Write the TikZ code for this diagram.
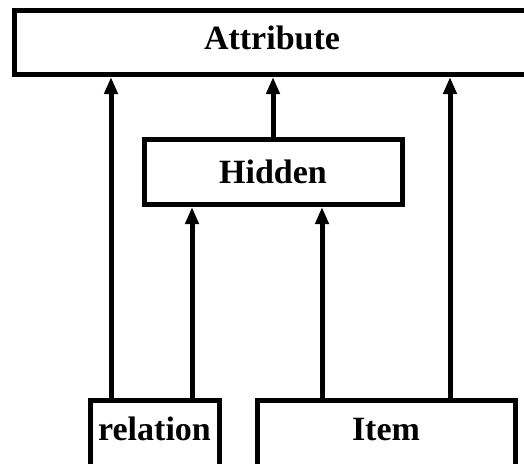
\documentclass[tikz,border=0pt]{standalone}
\usepackage{fontspec}
\setmainfont{Liberation Serif}
\usetikzlibrary{arrows.meta}

\tikzset{
  classbox/.style={draw, line width=5pt, inner sep=0pt,
    font=\fontsize{34}{40}\selectfont\bfseries},
  arr/.style={line width=5pt, -{Triangle[width=13pt,length=17pt]}}
}

\begin{document}
\begin{tikzpicture}[x=1pt, y=-1pt]
  \useasboundingbox (0,0) rectangle (524,463);
  \fill[white] (0,0) rectangle (524,463);
  \clip (0,0) rectangle (524,463);

  % class boxes
  \node[classbox, minimum width=516pt, minimum height=64.5pt,
        text height=22pt, text depth=8pt] (attr) at (272,42.25) {Attribute};
  \node[classbox, minimum width=258pt, minimum height=65pt,
        text height=22pt, text depth=0pt] (hid) at (273,172) {Hidden};
  \node[classbox, minimum width=129pt, minimum height=80pt,
        text height=11pt, text depth=11pt] (rel) at (154.5,440) {relation};
  \node[classbox, minimum width=258pt, minimum height=80pt,
        text height=11pt, text depth=11pt] (item) at (386,440) {Item};

  % generalisation arrows
  \draw[arr] ([xshift=-43.5pt]rel.north) -- ([xshift=-43.5pt]rel.north |- attr.south);
  \draw[arr] ([xshift=37.5pt]rel.north) -- ([xshift=37.5pt]rel.north |- hid.south);
  \draw[arr] ([xshift=-64pt]item.north) -- ([xshift=-64pt]item.north |- hid.south);
  \draw[arr] ([xshift=64pt]item.north) -- ([xshift=64pt]item.north |- attr.south);
  \draw[arr] (hid.north) -- (hid.north |- attr.south);
\end{tikzpicture}
\end{document}
